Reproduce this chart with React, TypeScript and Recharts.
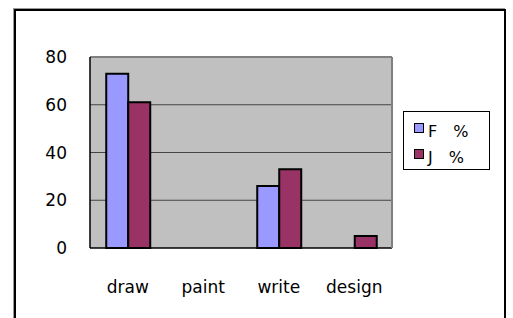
import { BarChart, Bar, XAxis, YAxis, CartesianGrid, Legend } from "recharts"

const categories = ["draw", "paint", "write", "design"]
const fValues = [73, 0, 26, 0]
const jValues = [61, 0, 33, 5]
const yTicks = [0, 20, 40, 60, 80]
const seriesNames = ["F　%", "J　%"]
const seriesColors = ["#9999FF", "#993366"]

const data = categories.map((name, i) => ({ name, f: fValues[i], j: jValues[i] }))

const FONT = "'DejaVu Sans', sans-serif"

function LegendBox({ payload }: any) {
  return (
    <div
      style={{
        width: 87,
        height: 59,
        boxSizing: "border-box",
        border: "1px solid #000",
        background: "#fff",
        paddingTop: 7,
        paddingLeft: 10,
        fontFamily: FONT,
        fontSize: 16,
      }}
    >
      {(payload || []).map((p: any) => (
        <div key={p.value} style={{ display: "flex", alignItems: "center", height: 26 }}>
          <span
            style={{
              width: 8,
              height: 8,
              background: p.color,
              border: "1.5px solid #000",
              marginRight: 4,
              marginTop: -8,
            }}
          />
          <span style={{ whiteSpace: "pre" }}>{p.value}</span>
        </div>
      ))}
    </div>
  )
}

export default function App() {
  return (
    <div style={{ position: "fixed", left: 0, top: 0, width: 513, height: 318, background: "#fff", overflow: "hidden" }}>
      <div
        style={{
          position: "absolute",
          left: 14,
          top: 9,
          width: 492,
          height: 330,
          boxSizing: "border-box",
          border: "2px solid #000",
          boxShadow: "-1px -1px 0 #999",
        }}
      />
      <BarChart
        width={513}
        height={318}
        data={data}
        margin={{ top: 56, right: 120, left: 0, bottom: 40 }}
        barCategoryGap="21.5%"
        barGap={0}
        style={{ position: "absolute", left: 0, top: 0 }}
      >
        <CartesianGrid
          vertical={false}
          fill="#C0C0C0"
          fillOpacity={1}
          stroke="#444"
          horizontalValues={[20, 40, 60]}
        />
        <XAxis
          dataKey="name"
          height={30}
          tickSize={0}
          tickMargin={33}
          axisLine={{ stroke: "#000", strokeWidth: 1.5 }}
          tick={{ fill: "#000", fontSize: 17, fontFamily: FONT }}
        />
        <XAxis xAxisId="top" orientation="top" dataKey="name" height={1} tick={false} tickLine={false}
          axisLine={{ stroke: "#808080", strokeWidth: 2 }} />
        <YAxis
          width={90}
          domain={[0, 80]}
          ticks={yTicks}
          interval={0}
          tickSize={0}
          tickMargin={23}
          axisLine={{ stroke: "#000", strokeWidth: 1.5 }}
          tick={{ fill: "#000", fontSize: 17, fontFamily: FONT }}
        />
        <YAxis yAxisId="right" orientation="right" width={1} domain={[0, 80]} tick={false} tickLine={false}
          axisLine={{ stroke: "#808080", strokeWidth: 2 }} />
        <Legend
          layout="horizontal"
          verticalAlign="middle"
          align="center"
          content={<LegendBox />}
          wrapperStyle={{ left: 403, top: 111, width: 87, height: 59 }}
        />
        <Bar dataKey="f" name={seriesNames[0]} fill={seriesColors[0]} stroke="#000" strokeWidth={2} isAnimationActive={false} />
        <Bar dataKey="j" name={seriesNames[1]} fill={seriesColors[1]} stroke="#000" strokeWidth={2} isAnimationActive={false} />
      </BarChart>
    </div>
  )
}
